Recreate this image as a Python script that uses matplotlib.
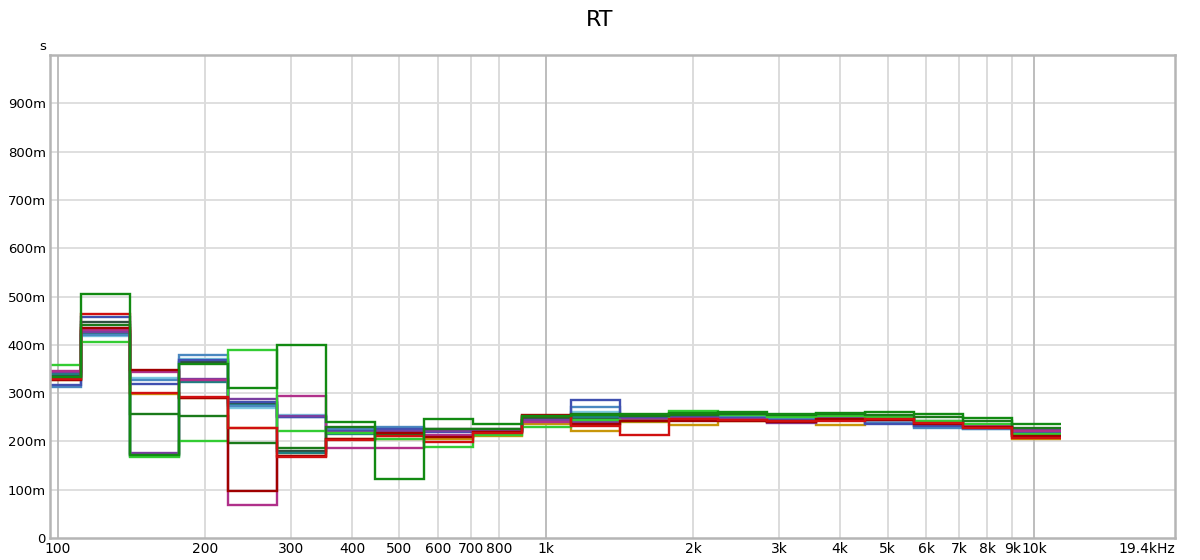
import numpy as np
import matplotlib
matplotlib.use("Agg")
import matplotlib.pyplot as plt

# third-octave band centres (nominal) and RT per measurement, seconds
bands = [100, 125, 160, 200, 250, 315, 400, 500, 630, 800, 1000,
         1250, 1600, 2000, 2500, 3150, 4000, 5000, 6300, 8000, 10000]

orange = [0.327, 0.428, 0.299, 0.290, 0.228, 0.170, 0.205, 0.205, 0.205, 0.212, 0.236,
          0.222, 0.240, 0.233, 0.242, 0.240, 0.234, 0.240, 0.232, 0.228, 0.205]
cyan = [0.336, 0.418, 0.332, 0.370, 0.270, 0.255, 0.226, 0.228, 0.224, 0.224, 0.244,
        0.260, 0.250, 0.252, 0.251, 0.248, 0.250, 0.240, 0.230, 0.226, 0.217]
gray = [0.335, 0.447, 0.173, 0.365, 0.280, 0.180, 0.222, 0.220, 0.225, 0.225, 0.248,
        0.248, 0.250, 0.253, 0.252, 0.252, 0.254, 0.250, 0.243, 0.232, 0.212]
teal = [0.340, 0.423, 0.170, 0.324, 0.275, 0.177, 0.216, 0.220, 0.222, 0.222, 0.245,
        0.250, 0.251, 0.252, 0.253, 0.250, 0.252, 0.246, 0.240, 0.232, 0.215]
steel = [0.312, 0.420, 0.328, 0.378, 0.273, 0.250, 0.225, 0.229, 0.223, 0.223, 0.242,
         0.271, 0.250, 0.252, 0.250, 0.247, 0.251, 0.239, 0.228, 0.226, 0.216]
indigo = [0.316, 0.457, 0.319, 0.369, 0.282, 0.250, 0.222, 0.226, 0.220, 0.222, 0.243,
          0.286, 0.248, 0.251, 0.249, 0.244, 0.250, 0.237, 0.231, 0.228, 0.218]
purple = [0.343, 0.427, 0.175, 0.330, 0.288, 0.252, 0.220, 0.222, 0.221, 0.222, 0.244,
          0.240, 0.247, 0.249, 0.247, 0.238, 0.248, 0.246, 0.238, 0.230, 0.223]
magenta = [0.346, 0.430, 0.343, 0.328, 0.069, 0.293, 0.187, 0.186, 0.214, 0.220, 0.240,
           0.236, 0.245, 0.247, 0.245, 0.240, 0.246, 0.245, 0.240, 0.232, 0.222]
lgreen = [0.358, 0.406, 0.167, 0.201, 0.389, 0.221, 0.218, 0.206, 0.189, 0.214, 0.230,
          0.245, 0.242, 0.262, 0.254, 0.250, 0.252, 0.250, 0.242, 0.236, 0.215]
dkgreen = [0.330, 0.442, 0.257, 0.252, 0.196, 0.187, 0.230, 0.216, 0.226, 0.226, 0.250,
           0.256, 0.253, 0.255, 0.257, 0.255, 0.257, 0.254, 0.250, 0.243, 0.228]
dred = [0.327, 0.435, 0.347, 0.290, 0.097, 0.170, 0.205, 0.218, 0.209, 0.220, 0.255,
        0.237, 0.243, 0.243, 0.242, 0.240, 0.246, 0.244, 0.236, 0.230, 0.211]
red = [0.330, 0.463, 0.301, 0.292, 0.227, 0.168, 0.203, 0.212, 0.198, 0.218, 0.252,
       0.232, 0.213, 0.246, 0.244, 0.243, 0.243, 0.247, 0.238, 0.228, 0.208]
dgreen = [0.333, 0.506, 0.172, 0.361, 0.310, 0.400, 0.240, 0.123, 0.247, 0.236, 0.252,
          0.255, 0.256, 0.259, 0.261, 0.257, 0.259, 0.261, 0.256, 0.249, 0.237]

series = [
    (orange, "#c8960a"), (cyan, "#7cc8e0"), (gray, "#2f4f3f"), (teal, "#1f7f80"),
    (steel, "#4a88c0"), (indigo, "#4050b0"), (purple, "#7a3fa0"), (magenta, "#b0308a"),
    (lgreen, "#33cc33"), (dkgreen, "#1a7a1a"), (dred, "#a00000"), (red, "#d01010"),
    (dgreen, "#128a12"),
]

xticks = [100, 200, 300, 400, 500, 600, 700, 800, 1000, 2000, 3000, 4000, 5000,
          6000, 7000, 8000, 9000, 10000, 19400]
xlabels = ["100", "200", "300", "400", "500", "600", "700", "800", "1k", "2k", "3k",
           "4k", "5k", "6k", "7k", "8k", "9k", "10k", "19.4kHz"]
yticks = np.arange(0, 1.0, 0.1)
ylabels = ["0"] + [f"{int(round(v * 1000))}m" for v in yticks[1:]]

# band edges: 1/3 octave either side of exact base-2 centres
k = np.arange(len(bands)) - 10
edges = 1000 * 2 ** ((np.append(k, k[-1] + 1) - 0.5) / 3)

fig = plt.figure(figsize=(12, 5.6), dpi=100)
ax = fig.add_axes([50 / 1200, 22 / 560, 1125 / 1200, 483 / 560])
ax.set_xscale("log")
ax.set_xlim(96.3, 19400)
ax.set_ylim(0, 1.0)

# grid
for v in yticks[1:]:
    ax.axhline(v, color="#d9d9d9", lw=1.2, zorder=0)
for f in xticks[:-1]:
    c = "#bdbdbd" if f in (100, 1000, 10000) else "#dcdcdc"
    ax.axvline(f, color=c, lw=1.4, zorder=0)

for vals, col in series:
    ax.stairs(vals, edges, baseline=None, color=col, lw=1.7, zorder=2)

ax.set_xticks(xticks)
ax.set_xticklabels(xlabels, family=["Liberation Sans Narrow", "DejaVu Sans"], fontsize=10)
ax.xaxis.set_minor_locator(matplotlib.ticker.NullLocator())
ax.set_yticks(yticks)
ax.set_yticklabels(ylabels, fontsize=9.5)
ax.tick_params(length=0, pad=3)
labels = ax.get_xticklabels()
labels[-1].set_horizontalalignment("right")

for s in ax.spines.values():
    s.set_color("#b5b5b5")
    s.set_linewidth(1.8)

fig.text(43 / 1200, 1 - 46 / 560, "s", fontsize=9.5, ha="center", va="center")
fig.text(0.5, 1 - 20 / 560, "RT", fontsize=16, ha="center", va="center")

fig.savefig("out.png", dpi=100, facecolor="white")
